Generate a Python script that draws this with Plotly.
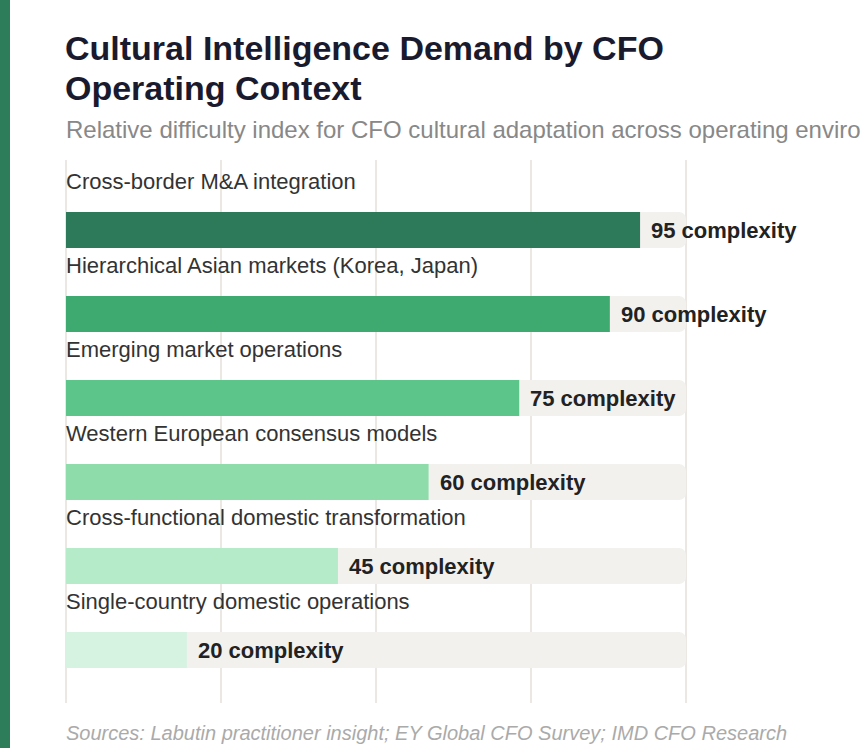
import plotly.graph_objects as go
import numpy as np

categories = [
    "Cross-border M&A integration",
    "Hierarchical Asian markets (Korea, Japan)",
    "Emerging market operations",
    "Western European consensus models",
    "Cross-functional domestic transformation",
    "Single-country domestic operations",
]
values = [95, 90, 75, 60, 45, 20]
bar_colors = ["#2d7a5a", "#3faa70", "#5cc68a", "#8ddcaa", "#b5ebc9", "#d6f3e2"]
value_suffix = " complexity"

title_lines = ["Cultural Intelligence Demand by CFO", "Operating Context"]
subtitle_text = "Relative difficulty index for CFO cultural adaptation across operating environments"
source_text = "Sources: Labutin practitioner insight; EY Global CFO Survey; IMD CFO Research"

FONT = "Liberation Sans, Arial, Helvetica, sans-serif"

track_max = max(values) * 1.08
pad_units = track_max / 620 * 2
ypos = list(range(len(categories)))

fig = go.Figure()
fig.add_trace(go.Bar(
    x=[track_max] * len(values), y=ypos, orientation="h",
    marker=dict(color="#f2f1ee", line=dict(width=0), cornerradius=7),
    width=0.43, hoverinfo="skip", showlegend=False,
))
fig.add_trace(go.Bar(
    x=values, y=ypos, orientation="h",
    marker=dict(color=bar_colors, line=dict(width=0), cornerradius=7),
    width=0.43, customdata=categories,
    hovertemplate="%{customdata}: %{x}<extra></extra>", showlegend=False,
))

annotations = []
for i, (cat, v) in enumerate(zip(categories, values)):
    annotations.append(dict(
        x=0, y=i, xref="x", yref="y", text=cat, showarrow=False,
        xanchor="left", yanchor="middle", yshift=49, xshift=-2,
        font=dict(family=FONT, size=22, color="#333333"),
    ))
    annotations.append(dict(
        x=v, y=i, xref="x", yref="y", text=f"<b>{v}{value_suffix}</b>", showarrow=False,
        xanchor="left", yanchor="middle", xshift=9,
        font=dict(family=FONT, size=22, color="#222222"),
    ))

PLOT_TOP, PLOT_BOTTOM = 160, 703
H = float(PLOT_BOTTOM - PLOT_TOP)
def py(px):
    return (PLOT_BOTTOM - px) / H
W = 624.0
def px_(x):
    return (x - 64) / W

for line, ycen in zip(title_lines, [48, 88]):
    annotations.append(dict(
        x=px_(63), y=py(ycen), xref="paper", yref="paper", text=f"<b>{line}</b>",
        showarrow=False, xanchor="left", yanchor="middle", align="left",
        font=dict(family=FONT, size=34, color="#1a1a2e")))
annotations += [
    dict(x=px_(64), y=py(129), xref="paper", yref="paper", text=subtitle_text,
         showarrow=False, xanchor="left", yanchor="middle", align="left",
         font=dict(family=FONT, size=24, color="#888888")),
    dict(x=px_(64), y=py(733), xref="paper", yref="paper", text=f"<i>{source_text}</i>",
         showarrow=False, xanchor="left", yanchor="middle", align="left",
         font=dict(family=FONT, size=20, color="#aaaaaa")),
]

fig.update_layout(
    width=862, height=748,
    margin=dict(l=64, r=174, t=PLOT_TOP, b=748 - PLOT_BOTTOM, pad=0),
    paper_bgcolor="white", plot_bgcolor="white",
    barmode="overlay", barcornerradius=7,
    xaxis=dict(range=[-pad_units, track_max + pad_units],
               tickvals=list(np.linspace(0, track_max, 5)),
               showticklabels=False, showgrid=True, gridcolor="#ebe8e3", gridwidth=2,
               zeroline=False, showline=False, ticks="", fixedrange=True),
    yaxis=dict(range=[5 + 53 / 84, -70 / 84], showticklabels=False, showgrid=False,
               zeroline=False, showline=False, ticks="", fixedrange=True),
    annotations=annotations,
    shapes=[dict(type="rect", xref="paper", yref="paper",
                 x0=px_(0), x1=px_(10), y0=py(748), y1=py(0),
                 fillcolor="#2e7d5a", line=dict(width=0), layer="above")],
    showlegend=False,
)

fig.write_html("out.html", config={"displayModeBar": False},
               post_script="document.body.style.margin='0';")
